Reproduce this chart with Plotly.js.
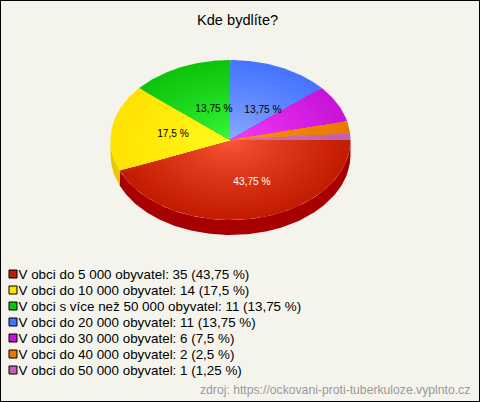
<!DOCTYPE html>
<html><head><meta charset="utf-8">
<script src="https://cdn.plot.ly/plotly-3.0.1.min.js"></script>
<style>html,body{margin:0;padding:0;background:#f4f4ec}#c{width:480px;height:402px}</style>
</head><body><div id="c"></div>
<script>
const categories = ["V obci do 5 000 obyvatel","V obci do 10 000 obyvatel","V obci s více než 50 000 obyvatel","V obci do 20 000 obyvatel","V obci do 30 000 obyvatel","V obci do 40 000 obyvatel","V obci do 50 000 obyvatel"];
const counts = [35,14,11,11,6,2,1];
const percentTexts = ["43,75 %","17,5 %","13,75 %","13,75 %","7,5 %","2,5 %","1,25 %"];
const titleText = "Kde bydlíte?";
const sourceText = "zdroj: https://ockovani-proti-tuberkuloze.vyplnto.cz";

// styles
const edgeColors = [[196,28,0],[255,226,0],[12,196,12],[70,116,255],[200,20,216],[232,120,0],[192,96,176]];
const coreColors = [[255,92,60],[255,255,40],[64,255,64],[148,178,255],[255,64,255],[255,150,30],[224,112,190]];
const sideColors = ["#a80000","#e6ca00","#0a9a0a","#3558c8","#9a10a8","#b85e00","#964f8a"];
const labelColors = ["#ffffff","#000000","#000000","#000000"];
const labelAnchors = [[252,182.5],[173,134],[214,109],[263,110]];
const cx=230.5, cy=140, rx=120, ry=80, depth=15, rings=24;
const legendX=13, legendTextX=18.5, legendTop=274, legendStep=16;

const total = counts.reduce((a,b)=>a+b,0);
const traces = [];
const rad = d=>d*Math.PI/180;
function arc(a0,a1,s,dy){
  const n=Math.max(2,Math.ceil((a1-a0)));
  const xs=[],ys=[];
  for(let i=0;i<=n;i++){const a=rad(a0+(a1-a0)*i/n);xs.push(cx+rx*s*Math.cos(a));ys.push(cy+(dy||0)+ry*s*Math.sin(a));}
  return [xs,ys];
}
function poly(xs,ys,color){
  traces.push({type:'scatter',mode:'lines',x:xs,y:ys,fill:'toself',fillcolor:color,line:{width:0,color:color},hoverinfo:'skip',showlegend:false});
}
// slice angles, clockwise from 3 o'clock
let acc=0; const spans=counts.map(c=>{const a=[acc,acc+c/total*360];acc=a[1];return a;});
// wall of the disc (only the front half is visible)
spans.forEach((sp,i)=>{
  const a0=sp[0], a1=Math.min(sp[1],180);
  if(a0>=180) return;
  const [tx,ty]=arc(a0,a1,1,0), [bx,by]=arc(a0,a1,1,depth);
  poly(tx.concat(bx.reverse()),ty.concat(by.reverse()),sideColors[i]);
});
// top surface: concentric bands give the radial shading
spans.forEach((sp,i)=>{
  for(let k=rings;k>=1;k--){
    const s=k/rings, t=Math.pow(s,0.75), e=edgeColors[i], c=coreColors[i];
    const col='rgb('+e.map((v,j)=>Math.round(c[j]+(v-c[j])*t)).join(',')+')';
    const [x,y]=arc(sp[0],sp[1],s,0);
    poly([cx].concat(x,[cx]),[cy].concat(y,[cy]),col);
  }
});
// value labels on the four biggest slices
traces.push({type:'scatter',mode:'text',x:labelAnchors.map(p=>p[0]),y:labelAnchors.map(p=>p[1]),
  text:percentTexts.slice(0,4),textposition:'middle center',
  textfont:{family:'Liberation Sans, Arial, sans-serif',size:10.2,color:labelColors},hoverinfo:'skip',showlegend:false});
// legend swatches and texts
traces.push({type:'scatter',mode:'markers',
  x:categories.map(()=>legendX),y:categories.map((c,i)=>legendTop+i*legendStep),
  marker:{symbol:'square',size:8,color:edgeColors.map(e=>'rgb('+e.join(',')+')'),line:{color:'#000',width:1}},
  hoverinfo:'skip',showlegend:false});
traces.push({type:'scatter',mode:'text',
  x:categories.map(()=>legendTextX),y:categories.map((c,i)=>legendTop+1.5+i*legendStep),
  text:categories.map((c,i)=>c+': '+counts[i]+' ('+percentTexts[i]+')'),
  textposition:'middle right',
  textfont:{family:'Liberation Sans, Arial, sans-serif',size:13.4,color:'#000'},
  hoverinfo:'skip',showlegend:false});

const layout={
  width:480,height:402,margin:{l:0,r:0,t:0,b:0},
  paper_bgcolor:'#f4f4ec',plot_bgcolor:'#f4f4ec',showlegend:false,
  xaxis:{range:[0,480],visible:false,fixedrange:true},
  yaxis:{range:[402,0],visible:false,fixedrange:true},
  shapes:[{type:'rect',xref:'paper',yref:'paper',x0:0,x1:1,y0:0,y1:1,line:{color:'#000',width:2},fillcolor:'rgba(0,0,0,0)'}],
  annotations:[
    {xref:'x',yref:'y',x:237,y:20,text:titleText,showarrow:false,xanchor:'center',yanchor:'middle',font:{family:'Liberation Sans, Arial, sans-serif',size:14.6,color:'#000'}},
    {xref:'x',yref:'y',x:471.5,y:389.5,text:sourceText,showarrow:false,xanchor:'right',yanchor:'middle',font:{family:'Liberation Sans, Arial, sans-serif',size:12.2,color:'#999999'}}
  ]
};
Plotly.newPlot('c',traces,layout,{displayModeBar:false,staticPlot:true});
</script></body></html>
